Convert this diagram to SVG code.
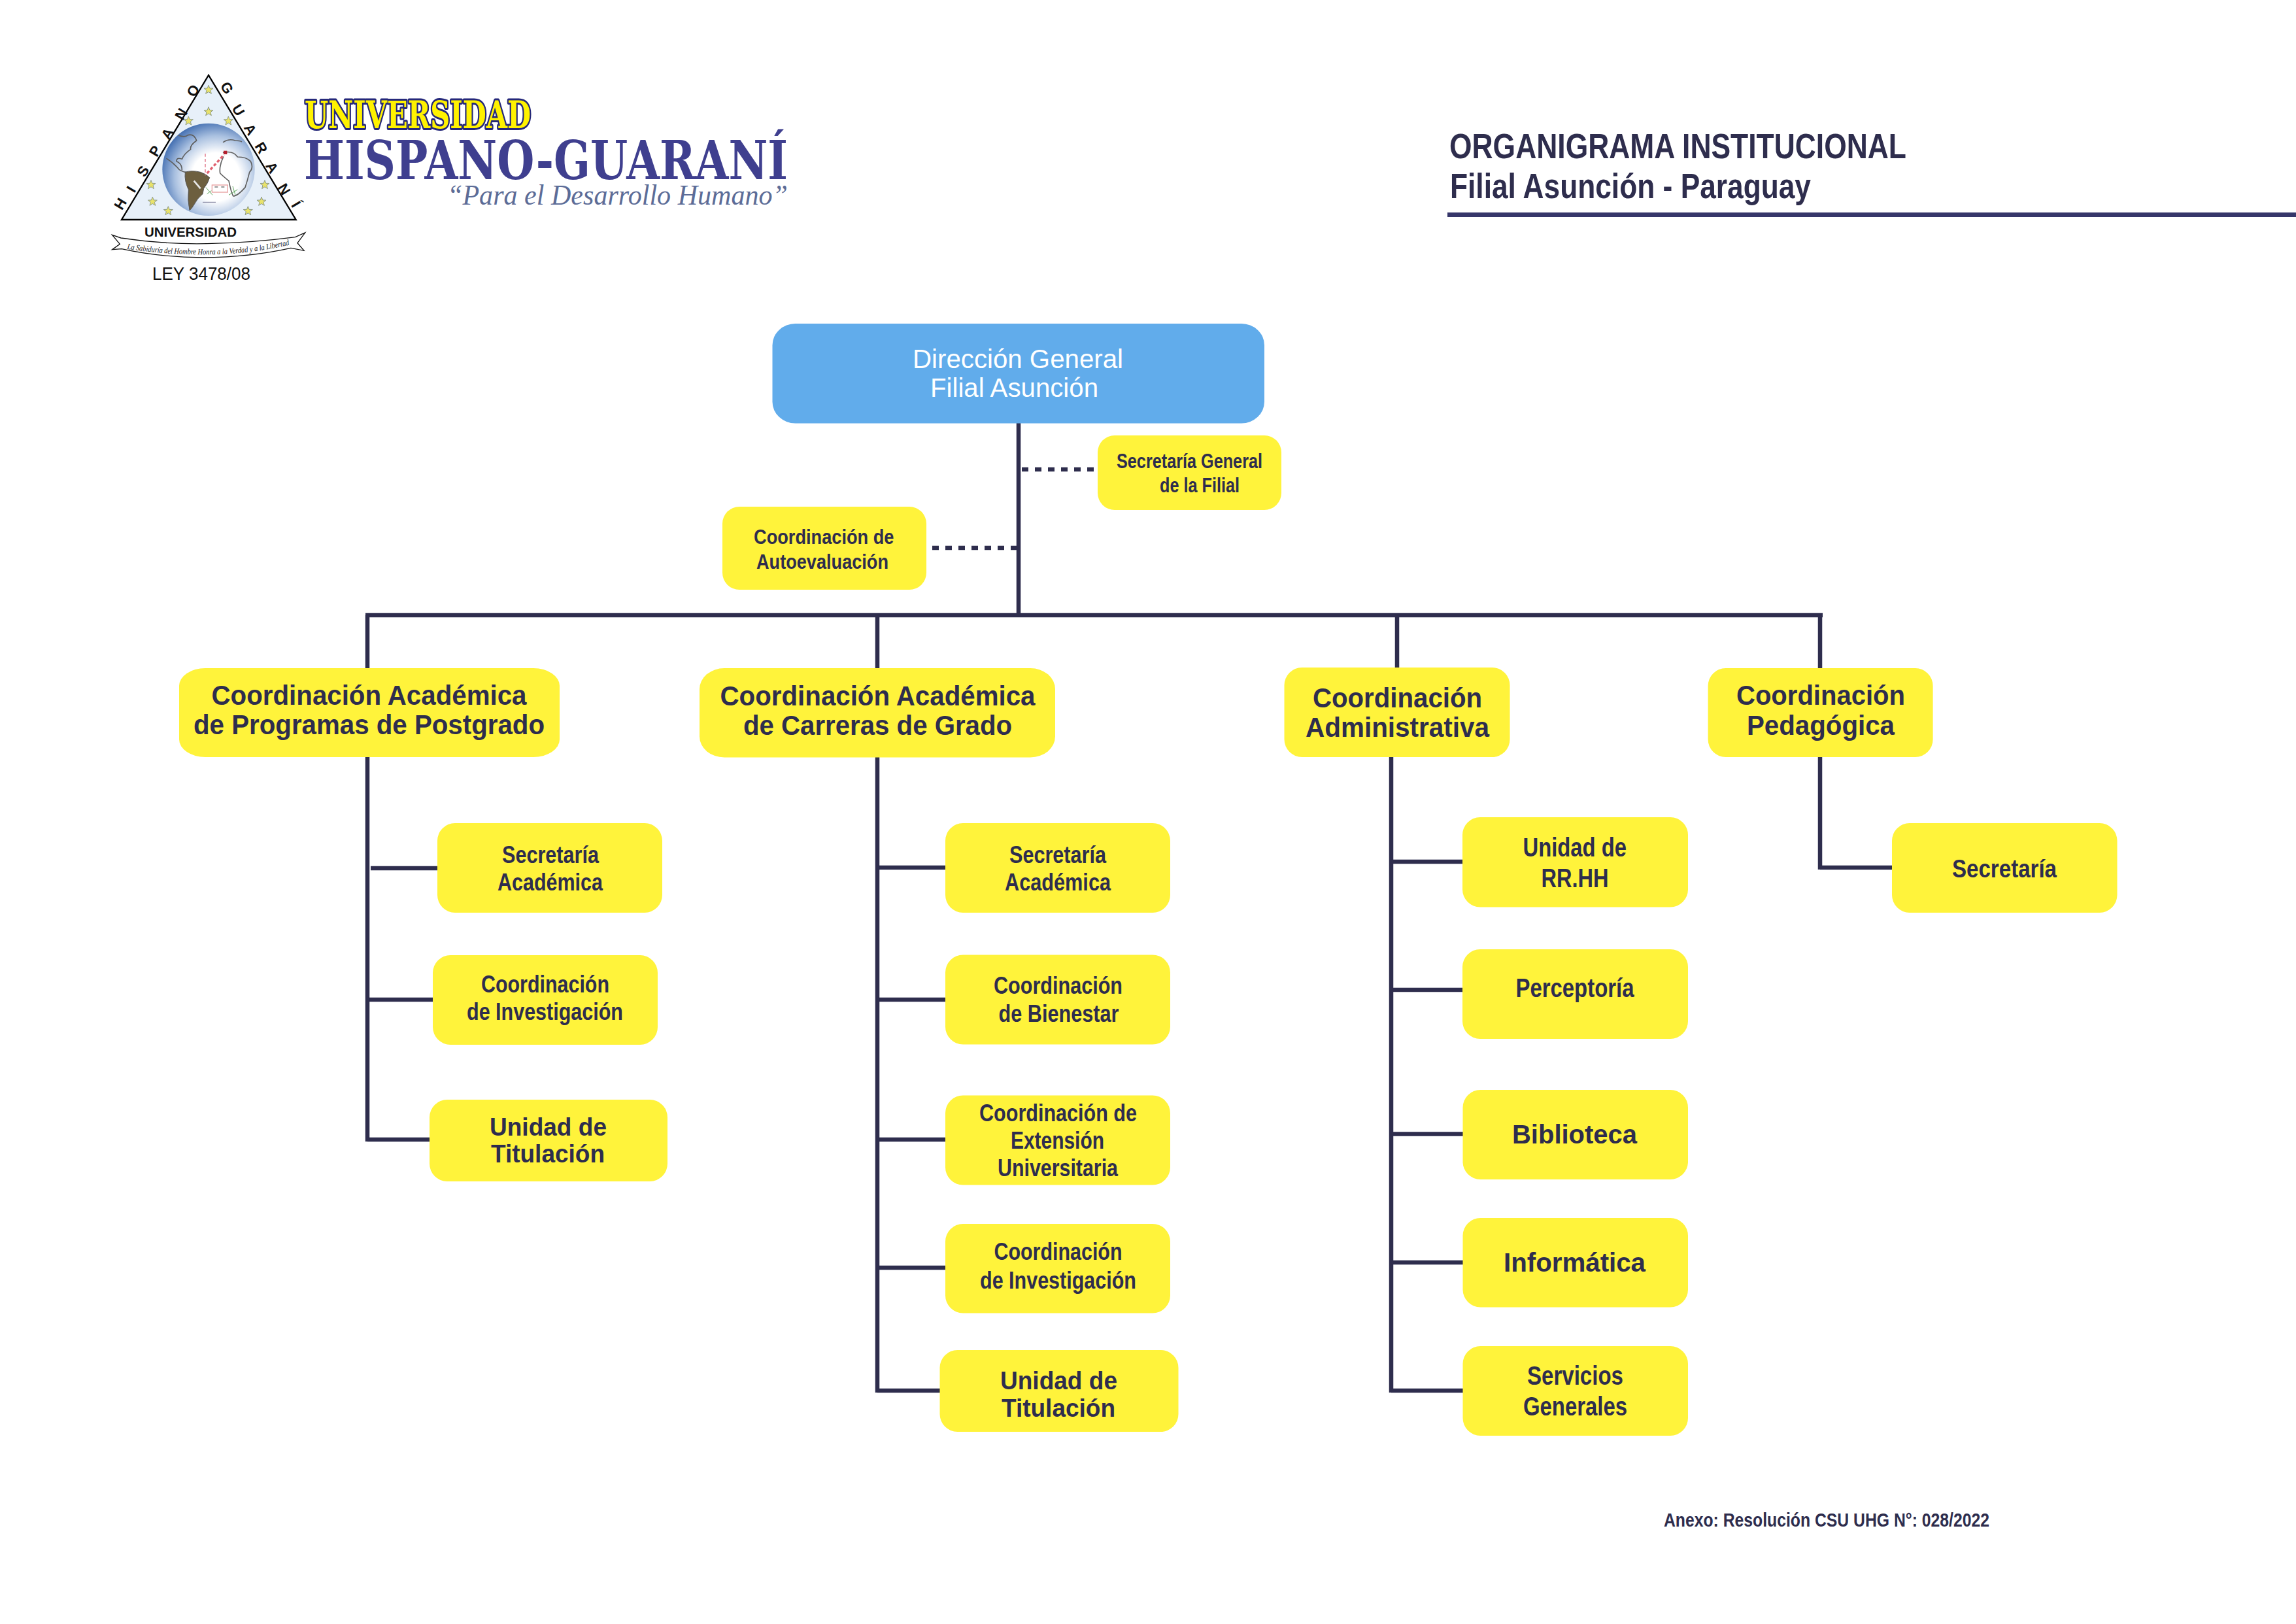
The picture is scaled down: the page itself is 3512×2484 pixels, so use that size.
<svg xmlns="http://www.w3.org/2000/svg" xmlns:xlink="http://www.w3.org/1999/xlink" width="3512" height="2484" viewBox="0 0 3512 2484">
<style>
text{font-family:"Liberation Sans",Arial,sans-serif;fill:#2E2D4D;font-weight:700}
.y{fill:#FFF33B}
.c{fill:none;stroke:#2E2D4D;stroke-width:6.5}
.d{fill:none;stroke:#2E2D4D;stroke-width:6.5;stroke-dasharray:10 10}
.l{font-size:22px;fill:#111;text-anchor:middle}
.wm{fill:none;stroke:#5f5f5f;stroke-width:5;stroke-linejoin:round;stroke-linecap:round}
</style>
<defs>
<radialGradient id="glob" cx="0.58" cy="0.58" r="0.62"><stop offset="0" stop-color="#fff"/><stop offset="0.42" stop-color="#fff"/><stop offset="0.72" stop-color="#a9c0e0"/><stop offset="1" stop-color="#3f6cb0"/></radialGradient>
<polygon id="st" points="0,-21 5.5,-7 21,-6.5 9,3 13,18 0,9.5 -13,18 -9,3 -21,-6.5 -5.5,-7" fill="#E9E36A" stroke="#8d9a8a" stroke-width="3"/>
<path id="rb" d="M133,842 Q300,868 500,868 Q700,866 885,822"/>
</defs>
<rect width="3512" height="2484" fill="#fff"/>
<g id="logo">
<g transform="translate(150,100) scale(0.33333)">
<polygon points="507,45 108,708 908,708" fill="#E7F0F9"/>
<circle cx="507" cy="478" r="212" fill="url(#glob)"/>
<path class="wm" d="M370,322Q400,332 412,320Q440,312 452,345Q420,368 425,385Q395,405 385,430Q360,420 360,440Q385,450 385,480M315,428Q350,450 372,478Q390,490 405,490"/>
<path d="M400,490Q430,480 470,490Q495,498 512,515Q505,540 485,565L480,590Q455,610 440,640Q428,660 420,665Q410,620 415,570Q395,530 400,490Z" fill="#6d5f3f" stroke="#555" stroke-width="3"/>
<path d="M440,530L470,565" stroke="#e8e8e8" stroke-width="8" fill="none"/>
<path class="wm" d="M575,352Q600,335 630,345Q650,345 658,350M575,400Q620,390 640,420Q680,420 700,440Q715,470 695,490Q685,530 675,560Q640,600 620,600Q610,580 600,530Q575,510 560,495Q555,460 575,420"/>
<path d="M492,405V505" stroke="#E58A9A" stroke-width="5" stroke-dasharray="14 10" fill="none"/>
<path d="M500,495L578,410" stroke="#E0606F" stroke-width="10" stroke-dasharray="14 9" fill="none"/>
<rect x="576" y="392" width="16" height="16" fill="#B5202F"/>
<rect x="523" y="549" width="72" height="33" fill="#fff" stroke="#E8A0A0" stroke-width="4"/>
<path d="M535,558h15M565,558h15" stroke="#777" stroke-width="5"/>
<path d="M495,560L525,595M500,590L520,575M600,595L640,570M618,555L630,595" stroke="#5DA55D" stroke-width="3" fill="none"/>
<path d="M480,628H540" stroke="#7d7d9a" stroke-width="3"/>
<use xlink:href="#st" href="#st" x="507" y="112"/><use xlink:href="#st" href="#st" x="507" y="212"/><use xlink:href="#st" href="#st" x="415" y="255"/><use xlink:href="#st" href="#st" x="598" y="255"/><use xlink:href="#st" href="#st" x="243" y="548"/><use xlink:href="#st" href="#st" x="765" y="548"/><use xlink:href="#st" href="#st" x="250" y="625"/><use xlink:href="#st" href="#st" x="750" y="625"/><use xlink:href="#st" href="#st" x="322" y="668"/><use xlink:href="#st" href="#st" x="688" y="668"/>
<polygon points="507,45 108,708 908,708" fill="none" stroke="#000" stroke-width="7"/>
<path d="M105,792Q300,822 500,818Q700,815 905,788L950,768L915,815L945,850L885,838Q700,880 480,882Q280,880 108,842L65,845L100,820L65,778Z" fill="#fff" stroke="#111" stroke-width="4"/>
</g>
<text class="l" transform="translate(190.5,315.7) rotate(-59)">H</text>
<text class="l" transform="translate(207,293.4) rotate(-59)">I</text>
<text class="l" transform="translate(225.4,265.7) rotate(-59)">S</text>
<text class="l" transform="translate(243.7,235) rotate(-59)">P</text>
<text class="l" transform="translate(262.7,208.4) rotate(-59)">A</text>
<text class="l" transform="translate(283.7,178.4) rotate(-59)">N</text>
<text class="l" transform="translate(302,142.7) rotate(-59)">O</text>
<text class="l" transform="translate(340.6,138.4) rotate(59)">G</text>
<text class="l" transform="translate(358,172.4) rotate(59)">U</text>
<text class="l" transform="translate(376.3,201.7) rotate(59)">A</text>
<text class="l" transform="translate(393,230) rotate(59)">R</text>
<text class="l" transform="translate(409.6,260) rotate(59)">A</text>
<text class="l" transform="translate(428,293.4) rotate(59)">N</text>
<text class="l" transform="translate(446.3,316.4) rotate(59)">Í</text>
<text x="221" y="362" font-size="21" textLength="141" lengthAdjust="spacingAndGlyphs" style="fill:#111">UNIVERSIDAD</text>
<text style="font-family:'Liberation Serif',serif;font-style:italic;font-weight:400;fill:#222" transform="translate(150,100) scale(0.33333)"><textPath href="#rb" xlink:href="#rb" font-size="37" textLength="750" lengthAdjust="spacingAndGlyphs">La Sabiduría del Hombre Honra a la Verdad y a la Libertad</textPath></text>
<text x="233" y="428" font-size="27" textLength="150" lengthAdjust="spacingAndGlyphs" style="font-weight:400;fill:#111">LEY 3478/08</text>
<text x="466" y="196" font-size="57" textLength="346" lengthAdjust="spacingAndGlyphs" style="font-family:'DejaVu Serif',serif;fill:#FFF200;stroke:#25287A;stroke-width:6;paint-order:stroke;stroke-linejoin:round">UNIVERSIDAD</text>
<text x="465" y="274" font-size="82" textLength="740" lengthAdjust="spacingAndGlyphs" style="font-family:'DejaVu Serif',serif;fill:#3F3F8F">HISPANO-GUARANÍ</text>
<text x="684" y="313" font-size="44" textLength="521" lengthAdjust="spacingAndGlyphs" style="font-family:'Liberation Serif',serif;font-style:italic;font-weight:400;fill:#5C6C97">“Para el Desarrollo Humano”</text>
</g>
<g id="title">
<text x="2217" y="242" font-size="54" textLength="699" lengthAdjust="spacingAndGlyphs">ORGANIGRAMA INSTITUCIONAL</text>
<text x="2218" y="303" font-size="54" textLength="552" lengthAdjust="spacingAndGlyphs">Filial Asunción - Paraguay</text>
<rect x="2214" y="325" width="1298" height="7" fill="#36366A"/>
</g>
<g id="connectors">
<path class="c" d="M1558,646V941M559,941H2788M562,941V1746M1342,941V2130M2137,941V1022M2128,1157V2130M2784,941V1330"/>
<path class="c" d="M567,1328H669M562,1529H662M562,1743H657"/>
<path class="c" d="M1342,1327H1446M1342,1529H1446M1345,1743H1446M1345,1939H1446M1342,2127H1438"/>
<path class="c" d="M2131,1318H2237M2131,1514H2237M2128,1734.5H2238M2128,1931H2238M2128,2127H2238"/>
<path class="c" d="M2784,1327H2894"/>
<path class="d" d="M1563,718H1674M1426,838H1556"/>
</g>
<g id="direccion"><rect x="1181.5" y="495" width="752.5" height="152.5" rx="35" ry="33" fill="#61ACEB"/>
<text x="1396" y="563" font-size="40" textLength="322" lengthAdjust="spacingAndGlyphs" style="fill:#fff;font-weight:400">Dirección General</text>
<text x="1423" y="607" font-size="40" textLength="257" lengthAdjust="spacingAndGlyphs" style="fill:#fff;font-weight:400">Filial Asunción</text></g>
<g id="secretaria-general"><rect class="y" x="1679" y="666" width="281" height="114" rx="26"/>
<text x="1708" y="716" font-size="31" textLength="223" lengthAdjust="spacingAndGlyphs">Secretaría General</text>
<text x="1774" y="753" font-size="31" textLength="122" lengthAdjust="spacingAndGlyphs">de la Filial</text></g>
<g id="autoevaluacion"><rect class="y" x="1105" y="775" width="312" height="127" rx="26"/>
<text x="1153" y="832" font-size="31" textLength="214.5" lengthAdjust="spacingAndGlyphs">Coordinación de</text>
<text x="1157" y="870" font-size="31" textLength="202" lengthAdjust="spacingAndGlyphs">Autoevaluación</text></g>
<g id="postgrado"><rect class="y" x="274" y="1022" width="582" height="136" rx="40" ry="27"/>
<text x="323.5" y="1078" font-size="42" textLength="482" lengthAdjust="spacingAndGlyphs">Coordinación Académica</text>
<text x="296" y="1123" font-size="42" textLength="537" lengthAdjust="spacingAndGlyphs">de Programas de Postgrado</text></g>
<g id="pg-secretaria"><rect class="y" x="669" y="1259" width="344" height="137" rx="27"/>
<text x="768" y="1320" font-size="37" textLength="148" lengthAdjust="spacingAndGlyphs">Secretaría</text>
<text x="761" y="1362" font-size="37" textLength="161" lengthAdjust="spacingAndGlyphs">Académica</text></g>
<g id="pg-investigacion"><rect class="y" x="662" y="1461" width="344" height="137" rx="27"/>
<text x="736" y="1518" font-size="37" textLength="196" lengthAdjust="spacingAndGlyphs">Coordinación</text>
<text x="714" y="1560" font-size="37" textLength="239" lengthAdjust="spacingAndGlyphs">de Investigación</text></g>
<g id="pg-titulacion"><rect class="y" x="657" y="1682" width="364" height="125" rx="27"/>
<text x="749" y="1737" font-size="39" textLength="179" lengthAdjust="spacingAndGlyphs">Unidad de</text>
<text x="751" y="1778" font-size="39" textLength="174" lengthAdjust="spacingAndGlyphs">Titulación</text></g>
<g id="grado"><rect class="y" x="1070" y="1022" width="544" height="136.5" rx="38" ry="32"/>
<text x="1101.5" y="1079" font-size="42" textLength="482" lengthAdjust="spacingAndGlyphs">Coordinación Académica</text>
<text x="1137" y="1124" font-size="42" textLength="411" lengthAdjust="spacingAndGlyphs">de Carreras de Grado</text></g>
<g id="gr-secretaria"><rect class="y" x="1446" y="1259" width="344" height="137" rx="27"/>
<text x="1544" y="1320" font-size="37" textLength="148" lengthAdjust="spacingAndGlyphs">Secretaría</text>
<text x="1537" y="1362" font-size="37" textLength="162" lengthAdjust="spacingAndGlyphs">Académica</text></g>
<g id="gr-bienestar"><rect class="y" x="1446" y="1460.5" width="344" height="137" rx="27"/>
<text x="1520" y="1520" font-size="37" textLength="197" lengthAdjust="spacingAndGlyphs">Coordinación</text>
<text x="1527.5" y="1562.5" font-size="37" textLength="184" lengthAdjust="spacingAndGlyphs">de Bienestar</text></g>
<g id="gr-extension"><rect class="y" x="1446" y="1675.5" width="344" height="137" rx="27"/>
<text x="1498" y="1714.5" font-size="36" textLength="241" lengthAdjust="spacingAndGlyphs">Coordinación de</text>
<text x="1546" y="1756.6" font-size="36" textLength="143" lengthAdjust="spacingAndGlyphs">Extensión</text>
<text x="1526" y="1799" font-size="36" textLength="184" lengthAdjust="spacingAndGlyphs">Universitaria</text></g>
<g id="gr-investigacion"><rect class="y" x="1446" y="1872" width="344" height="136.5" rx="27"/>
<text x="1520.5" y="1927" font-size="36" textLength="196" lengthAdjust="spacingAndGlyphs">Coordinación</text>
<text x="1499" y="1971" font-size="36" textLength="239" lengthAdjust="spacingAndGlyphs">de Investigación</text></g>
<g id="gr-titulacion"><rect class="y" x="1437.5" y="2065" width="365" height="125" rx="27"/>
<text x="1530" y="2124.5" font-size="39" textLength="179" lengthAdjust="spacingAndGlyphs">Unidad de</text>
<text x="1532" y="2166.5" font-size="39" textLength="174" lengthAdjust="spacingAndGlyphs">Titulación</text></g>
<g id="administrativa"><rect class="y" x="1964.5" y="1021" width="345" height="137" rx="27"/>
<text x="2008" y="1082" font-size="42" textLength="259" lengthAdjust="spacingAndGlyphs">Coordinación</text>
<text x="1997" y="1126.5" font-size="42" textLength="281" lengthAdjust="spacingAndGlyphs">Administrativa</text></g>
<g id="ad-rrhh"><rect class="y" x="2237" y="1250" width="345" height="137.5" rx="27"/>
<text x="2329.5" y="1310" font-size="40" textLength="158.5" lengthAdjust="spacingAndGlyphs">Unidad de</text>
<text x="2357.5" y="1357" font-size="40" textLength="103" lengthAdjust="spacingAndGlyphs">RR.HH</text></g>
<g id="ad-perceptoria"><rect class="y" x="2237" y="1452" width="345" height="137" rx="27"/>
<text x="2318.5" y="1525" font-size="40" textLength="181" lengthAdjust="spacingAndGlyphs">Perceptoría</text></g>
<g id="ad-biblioteca"><rect class="y" x="2237.5" y="1667" width="344.5" height="137" rx="27"/>
<text x="2313" y="1749" font-size="40" textLength="191" lengthAdjust="spacingAndGlyphs">Biblioteca</text></g>
<g id="ad-informatica"><rect class="y" x="2237.5" y="1863" width="344.5" height="136.5" rx="27"/>
<text x="2300" y="1945" font-size="40" textLength="217" lengthAdjust="spacingAndGlyphs">Informática</text></g>
<g id="ad-servicios"><rect class="y" x="2237.5" y="2059" width="344.5" height="137" rx="27"/>
<text x="2336" y="2118" font-size="40" textLength="147" lengthAdjust="spacingAndGlyphs">Servicios</text>
<text x="2330" y="2165" font-size="40" textLength="159" lengthAdjust="spacingAndGlyphs">Generales</text></g>
<g id="pedagogica"><rect class="y" x="2612.6" y="1022" width="344" height="136" rx="27"/>
<text x="2656" y="1078" font-size="42" textLength="258" lengthAdjust="spacingAndGlyphs">Coordinación</text>
<text x="2672" y="1123.5" font-size="42" textLength="226" lengthAdjust="spacingAndGlyphs">Pedagógica</text></g>
<g id="pe-secretaria"><rect class="y" x="2894" y="1259" width="344.5" height="137" rx="27"/>
<text x="2986" y="1341.7" font-size="39" textLength="160" lengthAdjust="spacingAndGlyphs">Secretaría</text></g>
<g id="anexo"><text x="2545" y="2335" font-size="30" textLength="498" lengthAdjust="spacingAndGlyphs">Anexo: Resolución CSU UHG N°: 028/2022</text></g>
</svg>
